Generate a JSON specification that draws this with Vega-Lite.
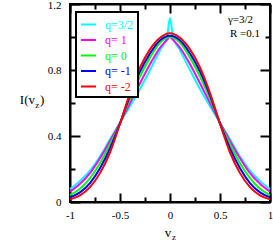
{
  "$schema": "https://vega.github.io/schema/vega-lite/v6.json",
  "width": 200,
  "height": 198,
  "autosize": {"type": "none"},
  "padding": {"left": 70, "top": 4, "right": 3, "bottom": 39},
  "background": "white",
  "config": {
    "view": {"stroke": "black", "strokeWidth": 2},
    "font": "Liberation Serif",
    "axis": {"grid": false, "domainColor": "black", "domainWidth": 2, "tickColor": "black", "tickWidth": 2, "labelFont": "Liberation Serif", "labelFontSize": 11, "labelColor": "black"}
  },
  "datasets": {
    "curves": [
      {"q": "q=3/2", "v": -1, "I": 0.078}, {"q": "q=3/2", "v": -0.9, "I": 0.128}, {"q": "q=3/2", "v": -0.8, "I": 0.19}, {"q": "q=3/2", "v": -0.7, "I": 0.275}, {"q": "q=3/2", "v": -0.6, "I": 0.38}, {"q": "q=3/2", "v": -0.5, "I": 0.48}, {"q": "q=3/2", "v": -0.4, "I": 0.58}, {"q": "q=3/2", "v": -0.3, "I": 0.685}, {"q": "q=3/2", "v": -0.2, "I": 0.8}, {"q": "q=3/2", "v": -0.1, "I": 0.92}, {"q": "q=3/2", "v": -0.03, "I": 1.0}, {"q": "q=3/2", "v": 0, "I": 1.115}, {"q": "q=3/2", "v": 0.03, "I": 1.0}, {"q": "q=3/2", "v": 0.1, "I": 0.92}, {"q": "q=3/2", "v": 0.2, "I": 0.8}, {"q": "q=3/2", "v": 0.3, "I": 0.685}, {"q": "q=3/2", "v": 0.4, "I": 0.58}, {"q": "q=3/2", "v": 0.5, "I": 0.48}, {"q": "q=3/2", "v": 0.6, "I": 0.38}, {"q": "q=3/2", "v": 0.7, "I": 0.275}, {"q": "q=3/2", "v": 0.8, "I": 0.19}, {"q": "q=3/2", "v": 0.9, "I": 0.128}, {"q": "q=3/2", "v": 1, "I": 0.078},
      {"q": "q= 1", "v": -1, "I": 0.062}, {"q": "q= 1", "v": -0.9, "I": 0.11}, {"q": "q= 1", "v": -0.8, "I": 0.175}, {"q": "q= 1", "v": -0.7, "I": 0.265}, {"q": "q= 1", "v": -0.6, "I": 0.37}, {"q": "q= 1", "v": -0.5, "I": 0.48}, {"q": "q= 1", "v": -0.4, "I": 0.6}, {"q": "q= 1", "v": -0.3, "I": 0.72}, {"q": "q= 1", "v": -0.2, "I": 0.835}, {"q": "q= 1", "v": -0.1, "I": 0.935}, {"q": "q= 1", "v": -0.02, "I": 0.99}, {"q": "q= 1", "v": 0, "I": 1.005}, {"q": "q= 1", "v": 0.02, "I": 0.99}, {"q": "q= 1", "v": 0.1, "I": 0.935}, {"q": "q= 1", "v": 0.2, "I": 0.835}, {"q": "q= 1", "v": 0.3, "I": 0.72}, {"q": "q= 1", "v": 0.4, "I": 0.6}, {"q": "q= 1", "v": 0.5, "I": 0.48}, {"q": "q= 1", "v": 0.6, "I": 0.37}, {"q": "q= 1", "v": 0.7, "I": 0.265}, {"q": "q= 1", "v": 0.8, "I": 0.175}, {"q": "q= 1", "v": 0.9, "I": 0.11}, {"q": "q= 1", "v": 1, "I": 0.062},
      {"q": "q= 0", "v": -1, "I": 0.042}, {"q": "q= 0", "v": -0.9, "I": 0.08}, {"q": "q= 0", "v": -0.8, "I": 0.145}, {"q": "q= 0", "v": -0.7, "I": 0.235}, {"q": "q= 0", "v": -0.6, "I": 0.35}, {"q": "q= 0", "v": -0.5, "I": 0.478}, {"q": "q= 0", "v": -0.4, "I": 0.625}, {"q": "q= 0", "v": -0.3, "I": 0.76}, {"q": "q= 0", "v": -0.2, "I": 0.875}, {"q": "q= 0", "v": -0.1, "I": 0.965}, {"q": "q= 0", "v": 0, "I": 1.0}, {"q": "q= 0", "v": 0.1, "I": 0.965}, {"q": "q= 0", "v": 0.2, "I": 0.875}, {"q": "q= 0", "v": 0.3, "I": 0.76}, {"q": "q= 0", "v": 0.4, "I": 0.625}, {"q": "q= 0", "v": 0.5, "I": 0.478}, {"q": "q= 0", "v": 0.6, "I": 0.35}, {"q": "q= 0", "v": 0.7, "I": 0.235}, {"q": "q= 0", "v": 0.8, "I": 0.145}, {"q": "q= 0", "v": 0.9, "I": 0.08}, {"q": "q= 0", "v": 1, "I": 0.042},
      {"q": "q= -1", "v": -1, "I": 0.028}, {"q": "q= -1", "v": -0.9, "I": 0.058}, {"q": "q= -1", "v": -0.8, "I": 0.115}, {"q": "q= -1", "v": -0.7, "I": 0.205}, {"q": "q= -1", "v": -0.6, "I": 0.325}, {"q": "q= -1", "v": -0.5, "I": 0.476}, {"q": "q= -1", "v": -0.4, "I": 0.645}, {"q": "q= -1", "v": -0.3, "I": 0.79}, {"q": "q= -1", "v": -0.2, "I": 0.9}, {"q": "q= -1", "v": -0.1, "I": 0.98}, {"q": "q= -1", "v": 0, "I": 1.008}, {"q": "q= -1", "v": 0.1, "I": 0.98}, {"q": "q= -1", "v": 0.2, "I": 0.9}, {"q": "q= -1", "v": 0.3, "I": 0.79}, {"q": "q= -1", "v": 0.4, "I": 0.645}, {"q": "q= -1", "v": 0.5, "I": 0.476}, {"q": "q= -1", "v": 0.6, "I": 0.325}, {"q": "q= -1", "v": 0.7, "I": 0.205}, {"q": "q= -1", "v": 0.8, "I": 0.115}, {"q": "q= -1", "v": 0.9, "I": 0.058}, {"q": "q= -1", "v": 1, "I": 0.028},
      {"q": "q= -2", "v": -1, "I": 0.016}, {"q": "q= -2", "v": -0.9, "I": 0.04}, {"q": "q= -2", "v": -0.8, "I": 0.09}, {"q": "q= -2", "v": -0.7, "I": 0.175}, {"q": "q= -2", "v": -0.6, "I": 0.3}, {"q": "q= -2", "v": -0.5, "I": 0.474}, {"q": "q= -2", "v": -0.4, "I": 0.66}, {"q": "q= -2", "v": -0.3, "I": 0.815}, {"q": "q= -2", "v": -0.2, "I": 0.925}, {"q": "q= -2", "v": -0.1, "I": 0.995}, {"q": "q= -2", "v": 0, "I": 1.022}, {"q": "q= -2", "v": 0.1, "I": 0.995}, {"q": "q= -2", "v": 0.2, "I": 0.925}, {"q": "q= -2", "v": 0.3, "I": 0.815}, {"q": "q= -2", "v": 0.4, "I": 0.66}, {"q": "q= -2", "v": 0.5, "I": 0.474}, {"q": "q= -2", "v": 0.6, "I": 0.3}, {"q": "q= -2", "v": 0.7, "I": 0.175}, {"q": "q= -2", "v": 0.8, "I": 0.09}, {"q": "q= -2", "v": 0.9, "I": 0.04}, {"q": "q= -2", "v": 1, "I": 0.016}
    ],
    "one": [{}]
  },
  "layer": [
    {
      "data": {"name": "curves"},
      "mark": {"type": "line", "strokeWidth": 2, "interpolate": "monotone"},
      "encoding": {
        "x": {"field": "v", "type": "quantitative", "scale": {"domain": [-1, 1], "nice": false, "zero": false},
          "axis": {"orient": "bottom", "title": null, "values": [-1, -0.75, -0.5, -0.25, 0, 0.25, 0.5, 0.75, 1],
            "tickSize": {"condition": {"test": "round(datum.value*100) % 50 === 0", "value": -9}, "value": -5},
            "labelExpr": "round(datum.value*100) % 50 === 0 ? '' + datum.value : ''", "labelPadding": 16, "labelFlush": false, "labelOverlap": false}},
        "y": {"field": "I", "type": "quantitative", "scale": {"domain": [0, 1.2], "nice": false},
          "axis": {"orient": "left", "title": null, "values": [0, 0.2, 0.4, 0.6, 0.8, 1.0, 1.2],
            "tickSize": {"condition": {"test": "round(datum.value*10) % 4 === 0", "value": -10}, "value": -5},
            "labelOffset": {"condition": {"test": "datum.value > 1.19", "value": 1.5}, "value": 0},
            "labelExpr": "round(datum.value*10) % 4 === 0 ? '' + datum.value : ''", "labelPadding": 19, "labelFlush": false, "labelOverlap": false}},
        "color": {"field": "q", "type": "nominal",
          "scale": {"domain": ["q=3/2", "q= 1", "q= 0", "q= -1", "q= -2"], "range": ["#00ffff", "#ff00ff", "#00ff00", "#0000ff", "#ff0000"]},
          "legend": {"orient": "none", "legendX": 6, "legendY": 8, "title": null, "strokeColor": "black", "fillColor": "white", "padding": 4,
            "symbolType": "stroke", "symbolSize": 225, "symbolStrokeWidth": 2, "labelFont": "Liberation Serif", "labelFontSize": 12, "labelOffset": 8, "rowPadding": 0.5,
            "encode": {"legend": {"update": {"strokeWidth": {"value": 2}}}, "labels": {"update": {"fill": {"scale": "color", "field": "value"}}}}}
        }
      }
    },
    {
      "data": {"name": "curves"},
      "mark": {"type": "point", "opacity": 0},
      "encoding": {
        "x": {"field": "v", "type": "quantitative",
          "axis": {"orient": "top", "title": null, "labels": false, "values": [-1, -0.75, -0.5, -0.25, 0, 0.25, 0.5, 0.75, 1],
            "tickSize": {"condition": {"test": "round(datum.value*100) % 50 === 0", "value": -9}, "value": -5}}},
        "y": {"field": "I", "type": "quantitative",
          "axis": {"orient": "right", "title": null, "labels": false, "values": [0, 0.2, 0.4, 0.6, 0.8, 1.0, 1.2],
            "tickSize": {"condition": {"test": "round(datum.value*10) % 4 === 0", "value": -10}, "value": -5}}}
      }
    },
    {
      "data": {"name": "one"},
      "mark": {"type": "text", "font": "Liberation Serif", "fontSize": 11, "align": "left", "baseline": "middle", "color": "black"},
      "encoding": {"x": {"datum": 0.58, "type": "quantitative", "axis": null}, "y": {"datum": 1.103, "type": "quantitative", "axis": null}, "text": {"value": "γ=3/2"}}
    },
    {
      "data": {"name": "one"},
      "mark": {"type": "text", "font": "Liberation Serif", "fontSize": 11, "align": "left", "baseline": "middle", "color": "black"},
      "encoding": {"x": {"datum": 0.6, "type": "quantitative", "axis": null}, "y": {"datum": 1.018, "type": "quantitative", "axis": null}, "text": {"value": "R =0.1"}}
    },
    {
      "data": {"name": "one"},
      "mark": {"type": "text", "font": "Liberation Serif", "fontSize": 13, "align": "right", "baseline": "middle", "color": "black"},
      "encoding": {"x": {"datum": -1.35, "type": "quantitative", "axis": null}, "y": {"datum": 0.618, "type": "quantitative", "axis": null}, "text": {"value": "I(v"}}
    },
    {
      "data": {"name": "one"},
      "mark": {"type": "text", "font": "Liberation Serif", "fontSize": 9, "align": "left", "baseline": "middle", "color": "black"},
      "encoding": {"x": {"datum": -1.348, "type": "quantitative", "axis": null}, "y": {"datum": 0.59, "type": "quantitative", "axis": null}, "text": {"value": "z"}}
    },
    {
      "data": {"name": "one"},
      "mark": {"type": "text", "font": "Liberation Serif", "fontSize": 13, "align": "left", "baseline": "middle", "color": "black"},
      "encoding": {"x": {"datum": -1.3, "type": "quantitative", "axis": null}, "y": {"datum": 0.618, "type": "quantitative", "axis": null}, "text": {"value": ")"}}
    },
    {
      "data": {"name": "one"},
      "mark": {"type": "text", "font": "Liberation Serif", "fontSize": 13, "align": "center", "baseline": "middle", "color": "black"},
      "encoding": {"x": {"datum": -0.02, "type": "quantitative", "axis": null}, "y": {"datum": -0.19, "type": "quantitative", "axis": null}, "text": {"value": "v"}}
    },
    {
      "data": {"name": "one"},
      "mark": {"type": "text", "font": "Liberation Serif", "fontSize": 9, "align": "center", "baseline": "middle", "color": "black"},
      "encoding": {"x": {"datum": 0.04, "type": "quantitative", "axis": null}, "y": {"datum": -0.213, "type": "quantitative", "axis": null}, "text": {"value": "z"}}
    }
  ],
  "resolve": {"axis": {"x": "independent", "y": "independent"}}
}
